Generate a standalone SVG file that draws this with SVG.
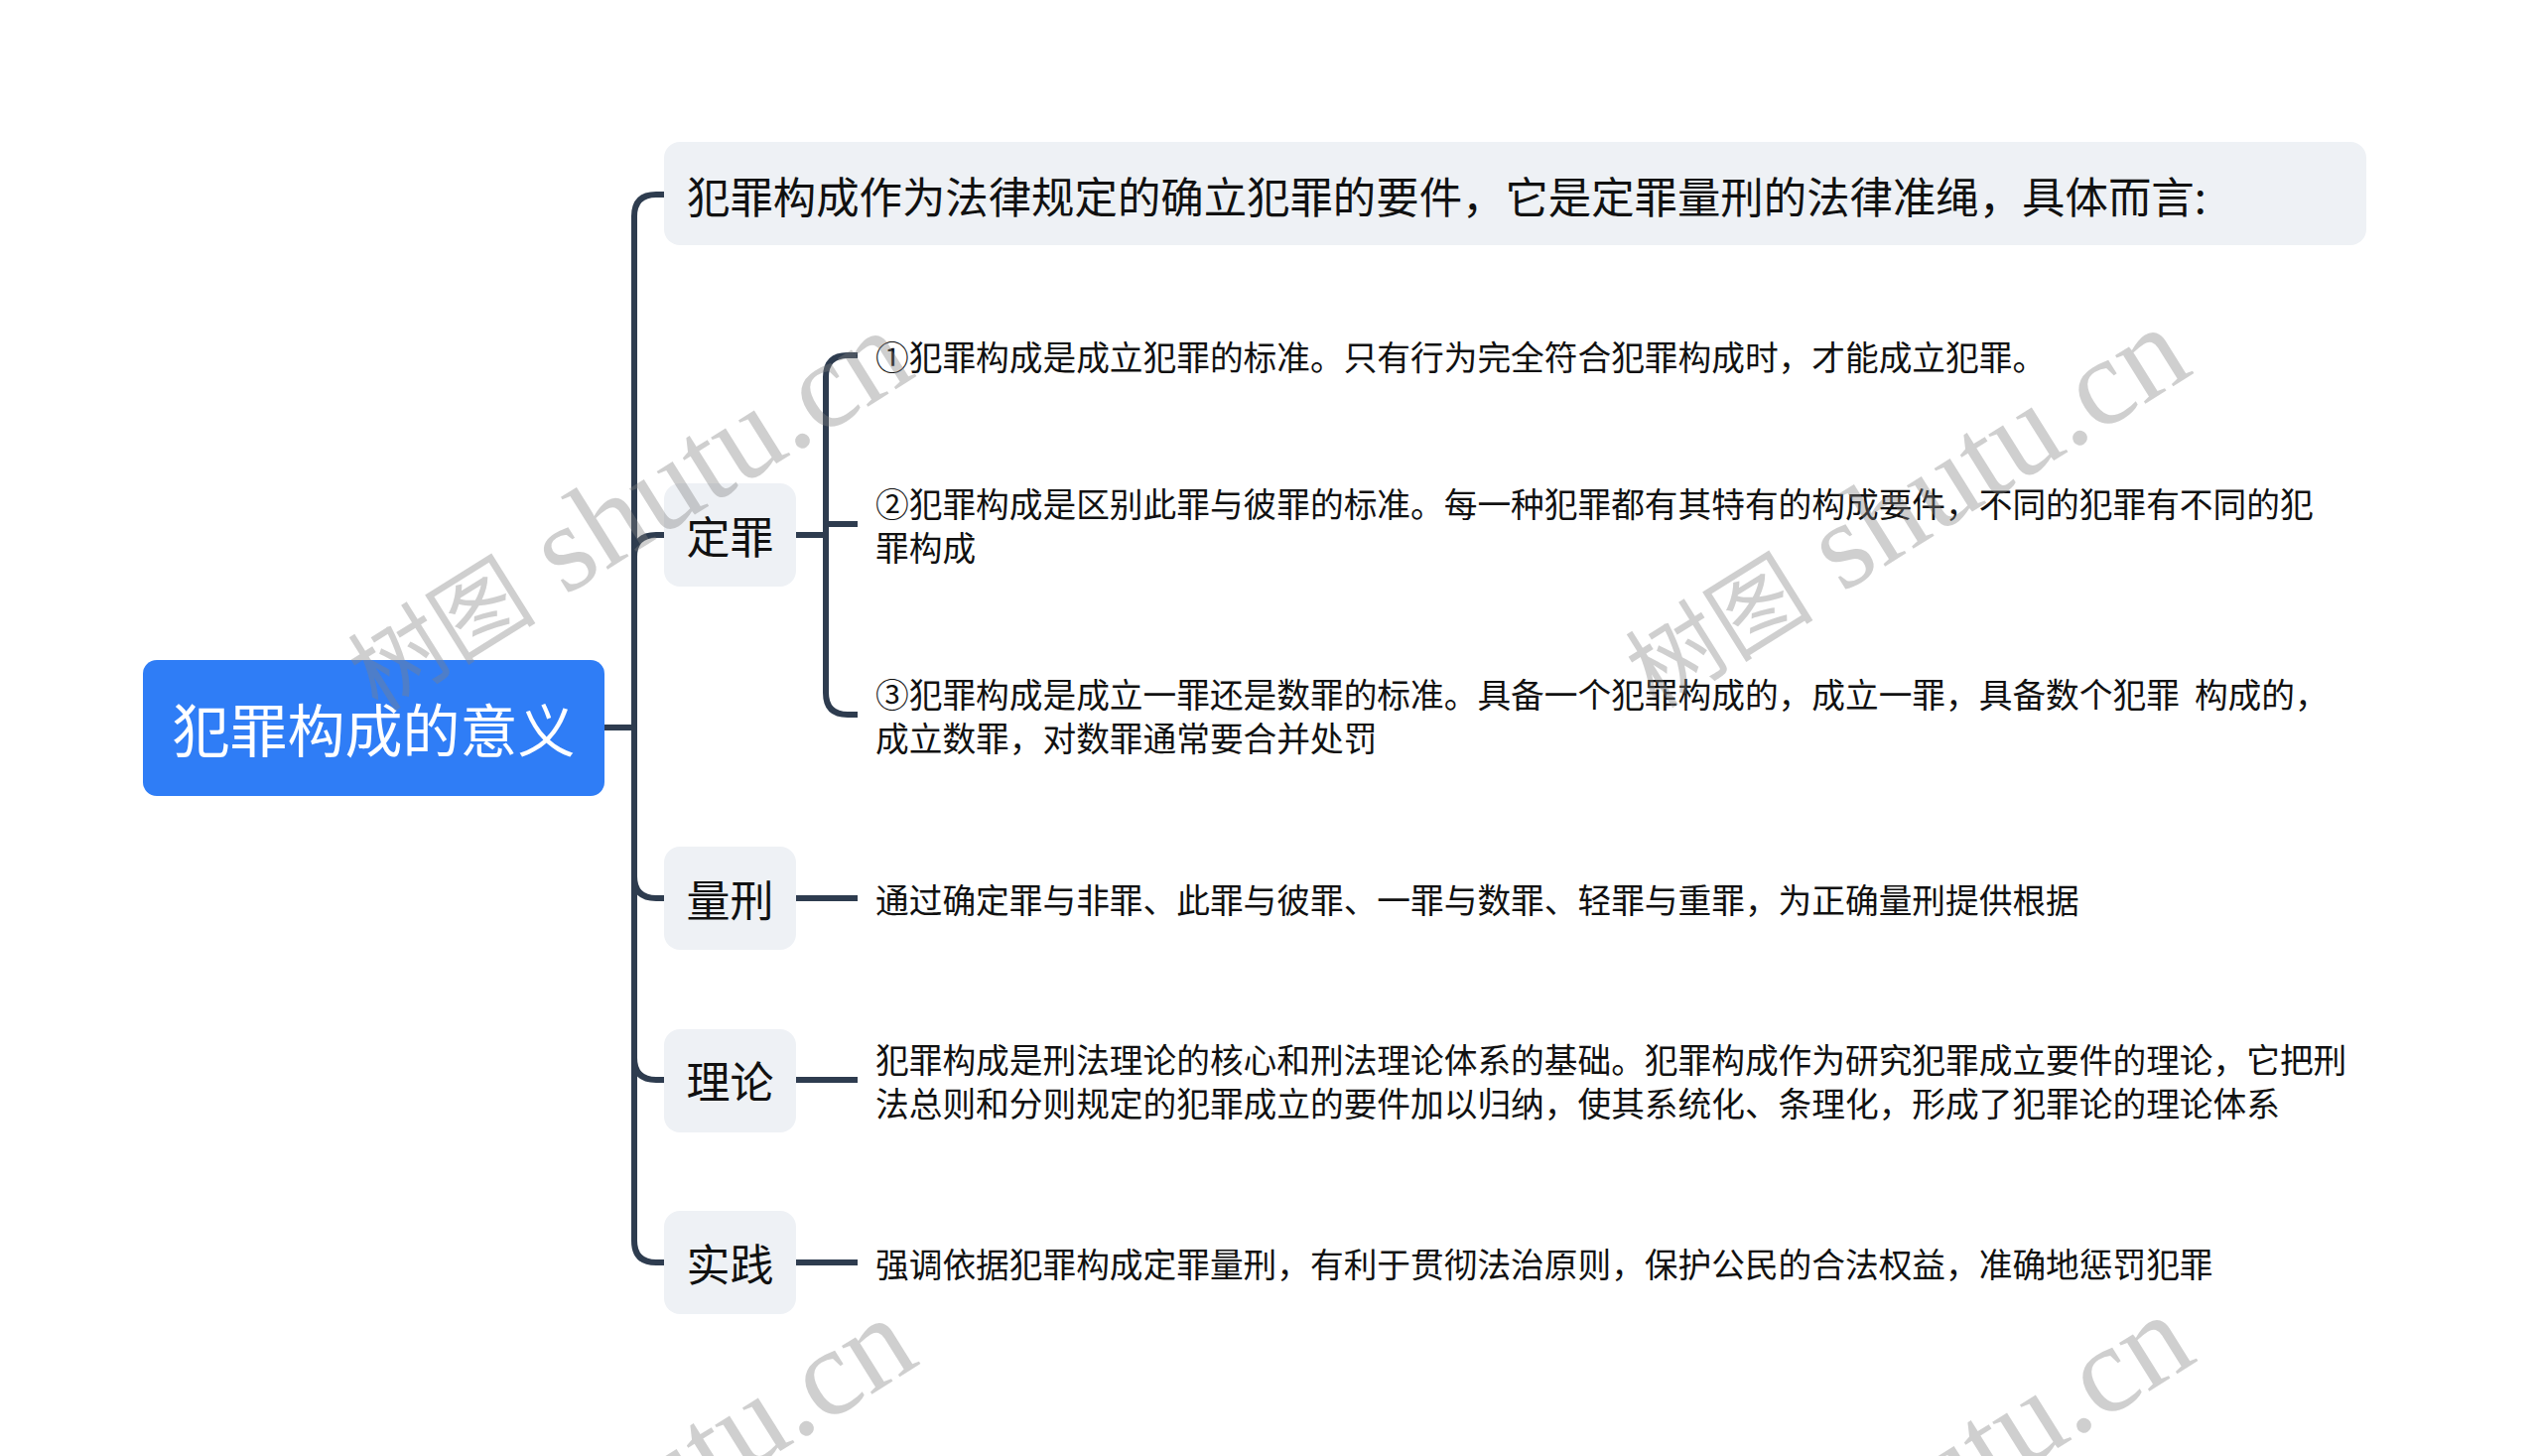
<svg xmlns="http://www.w3.org/2000/svg" width="2560" height="1467" viewBox="0 0 2560 1467">
<style>
.bg{fill:#ffffff}
.root{fill:#2f7df6}
.box{fill:#eef1f5}
.ln{fill:none;stroke:#2e3c4f;stroke-width:6;stroke-linecap:butt;stroke-linejoin:round}
.t{font-family:"Noto Sans CJK SC","Noto Sans",sans-serif;fill:#111111;dominant-baseline:central}
.rt{font-size:58px;fill:#ffffff;text-anchor:middle}
.l1{font-size:44px;text-anchor:middle}
.top{font-size:43.4px}
.l2{font-size:33.7px}
.wm{font-family:"Liberation Serif","Noto Sans CJK SC",serif;fill:#808080;fill-opacity:0.38}
.wmc{font-family:"Noto Sans CJK SC",sans-serif;font-size:95px}
.wml{font-size:125px}
</style>
<rect class="bg" x="0" y="0" width="2560" height="1467"/>
<g id="connectors">
<path class="ln" d="M609,733 H639"/>
<path class="ln" d="M639,733 V218 Q639,196 661,196 H670"/>
<path class="ln" d="M639,733 V561 Q639,539 661,539 H670"/>
<path class="ln" d="M639,733 V883 Q639,905 661,905 H670"/>
<path class="ln" d="M639,733 V1066 Q639,1088 661,1088 H670"/>
<path class="ln" d="M639,733 V1250 Q639,1272 661,1272 H670"/>
<path class="ln" d="M802,539 H832"/>
<path class="ln" d="M832,539 V380 Q832,358 854,358 H864"/>
<path class="ln" d="M832,539 V528 H864"/>
<path class="ln" d="M832,539 V698 Q832,720 854,720 H864"/>
<path class="ln" d="M802,905 H864"/>
<path class="ln" d="M802,1088 H864"/>
<path class="ln" d="M802,1272 H864"/>
</g>
<g id="node-root">
<rect class="root" x="144" y="665" width="465" height="137" rx="14"/>
<text class="t rt" x="376.5" y="733">犯罪构成的意义</text>
</g>
<g id="node-intro">
<rect class="box" x="669" y="143" width="1715" height="104" rx="16"/>
<text class="t top" x="692" y="196">犯罪构成作为法律规定的确立犯罪的要件，它是定罪量刑的法律准绳，具体而言:</text>
</g>
<g id="node-dingzui">
<rect class="box" x="669" y="487" width="133" height="104" rx="16"/>
<text class="t l1" x="735.5" y="539">定罪</text>
</g>
<g id="node-d1">
<text class="t l2" x="882" y="358">①犯罪构成是成立犯罪的标准。只有行为完全符合犯罪构成时，才能成立犯罪。</text>
</g>
<g id="node-d2">
<text class="t l2" x="882" y="506">②犯罪构成是区别此罪与彼罪的标准。每一种犯罪都有其特有的构成要件，不同的犯罪有不同的犯</text>
<text class="t l2" x="882" y="550">罪构成</text>
</g>
<g id="node-d3">
<text class="t l2" x="882" y="698" xml:space="preserve">③犯罪构成是成立一罪还是数罪的标准。具备一个犯罪构成的，成立一罪，具备数个犯罪  构成的，</text>
<text class="t l2" x="882" y="742">成立数罪，对数罪通常要合并处罚</text>
</g>
<g id="node-liangxing">
<rect class="box" x="669" y="853" width="133" height="104" rx="16"/>
<text class="t l1" x="735.5" y="905">量刑</text>
</g>
<g id="node-lx1">
<text class="t l2" x="882" y="905">通过确定罪与非罪、此罪与彼罪、一罪与数罪、轻罪与重罪，为正确量刑提供根据</text>
</g>
<g id="node-lilun">
<rect class="box" x="669" y="1037" width="133" height="104" rx="16"/>
<text class="t l1" x="735.5" y="1088">理论</text>
</g>
<g id="node-ll1">
<text class="t l2" x="882" y="1066">犯罪构成是刑法理论的核心和刑法理论体系的基础。犯罪构成作为研究犯罪成立要件的理论，它把刑</text>
<text class="t l2" x="882" y="1110">法总则和分则规定的犯罪成立的要件加以归纳，使其系统化、条理化，形成了犯罪论的理论体系</text>
</g>
<g id="node-shijian">
<rect class="box" x="669" y="1220" width="133" height="104" rx="16"/>
<text class="t l1" x="735.5" y="1272">实践</text>
</g>
<g id="node-sj1">
<text class="t l2" x="882" y="1272">强调依据犯罪构成定罪量刑，有利于贯彻法治原则，保护公民的合法权益，准确地惩罚犯罪</text>
</g>
<g id="watermarks">
<text class="wm" transform="translate(381,718) rotate(-32)"><tspan class="wmc">树图</tspan><tspan class="wml"> shutu.cn</tspan></text>
<text class="wm" transform="translate(1668,715) rotate(-32)"><tspan class="wmc">树图</tspan><tspan class="wml"> shutu.cn</tspan></text>
<text class="wm" transform="translate(385,1713) rotate(-32)"><tspan class="wmc">树图</tspan><tspan class="wml"> shutu.cn</tspan></text>
<text class="wm" transform="translate(1672,1710) rotate(-32)"><tspan class="wmc">树图</tspan><tspan class="wml"> shutu.cn</tspan></text>
</g>
</svg>
